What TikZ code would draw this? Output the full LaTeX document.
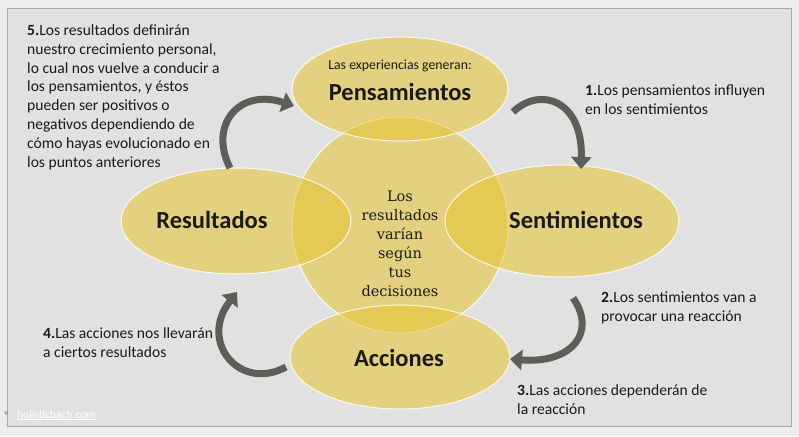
\documentclass[tikz,border=0pt]{standalone}
\usepackage{fontspec}
\setmainfont{Carlito}
\newfontfamily\slabfont{DejaVu Serif}
\usetikzlibrary{shapes.geometric,arrows.meta}
\definecolor{outerbg}{HTML}{EDEDED}
\definecolor{innerbg}{HTML}{E1E1E1}
\definecolor{framec}{HTML}{A9A9A9}
\definecolor{ellc}{RGB}{230,198,51}
\definecolor{arrc}{HTML}{5E5E58}
\definecolor{txtc}{HTML}{1A1A1A}
\tikzset{
  ell/.style={ellipse, draw=white, line width=1pt, fill=ellc, fill opacity=0.56, draw opacity=0.85, inner sep=0pt},
  big/.style={font=\bfseries\fontsize{24.5}{27}\selectfont, text=txtc, anchor=base, inner sep=0pt},
  body/.style={font=\fontsize{15.6}{18.8}\selectfont, text=txtc, align=left, anchor=north west, inner sep=0pt},
  curv/.style={draw=arrc, line width=7pt, -{Triangle[width=20pt,length=12pt]}},
}
\begin{document}
\begin{tikzpicture}[x=1pt,y=-1pt]
\useasboundingbox (0,0) rectangle (799,436);
\fill[outerbg] (0,0) rectangle (799,436);
\draw[framec, fill=innerbg, line width=0.8pt] (7,8) rectangle (791,426);
% shapes
\node[ell, circle, minimum size=216pt] (core) at (400,225) {};
\node[ell, minimum width=216pt, minimum height=104pt] (pens) at (400,89) {};
\node[ell, minimum width=230pt, minimum height=106pt] (resu) at (236,221) {};
\node[ell, minimum width=234pt, minimum height=112pt] (sent) at (562,221) {};
\node[ell, minimum width=220pt, minimum height=104pt] (acc) at (400,357) {};
% labels
\node[font=\fontsize{13.8}{15}\selectfont, text=txtc, anchor=base, inner sep=0pt] (pensintro) at (400,70) {Las experiencias generan:};
\node[big] (penslbl) at (400,100) {Pensamientos};
\node[big] (resulbl) at (212,228) {Resultados};
\node[big] (sentlbl) at (576,228) {Sentimientos};
\node[big] (acclbl) at (399,366) {Acciones};
\node[font=\slabfont\fontsize{14.5}{19}\selectfont, text=txtc, align=center, anchor=north, inner sep=0pt] (corelbl) at (400,191) {Los\\resultados\\varían\\según\\tus\\decisiones};
% side texts
\node[body] (t5) at (27,24.5) {\textbf{5.}Los resultados definirán\\nuestro crecimiento personal,\\lo cual nos vuelve a conducir a\\los pensamientos, y éstos\\pueden ser positivos o\\negativos dependiendo de\\cómo hayas evolucionado en\\los puntos anteriores};
\node[body] (t1) at (585,84.5) {\textbf{1.}Los pensamientos influyen\\en los sentimientos};
\node[body] (t2) at (601,291.5) {\textbf{2.}Los sentimientos van a\\provocar una reacción};
\node[body] (t3) at (517,384.5) {\textbf{3.}Las acciones dependerán de\\la reacción};
\node[body] (t4) at (43,327.5) {\textbf{4.}Las acciones nos llevarán\\a ciertos resultados};
% source
\node[font=\fontsize{11.5}{12}\selectfont, text=white, anchor=base west, inner sep=0pt] (src) at (17,418) {\underline{holisticbach.com}};
\node[circle, draw=gray, line width=0.5pt, minimum size=3pt, inner sep=0pt] (dot) at (6,413) {};
% arrows
\coordinate (a1s) at (513,112);
\coordinate (a1e) at (581,169);
\coordinate (a2s) at (573,298);
\coordinate (a2e) at (510,359);
\coordinate (a4s) at (286,367);
\coordinate (a4e) at (237,292);
\coordinate (a5s) at (230,168);
\coordinate (a5e) at (294,106);
\draw[curv] (a1s) .. controls (540,86) and (583,100) .. (a1e);
\draw[curv] (a2s) .. controls (597,332) and (572,364) .. (a2e);
\draw[curv] (a4s) .. controls (240,392) and (198,342) .. (a4e);
\draw[curv] (a5s) .. controls (208,124) and (240,88) .. (a5e);
\end{tikzpicture}
\end{document}
